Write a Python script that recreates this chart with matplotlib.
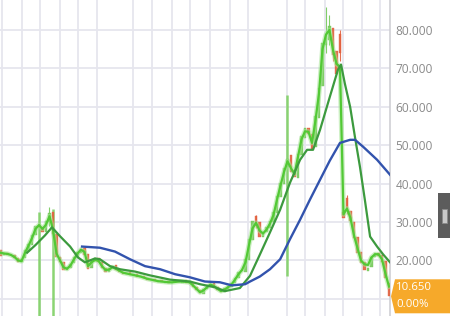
import matplotlib
matplotlib.use("Agg")
import matplotlib.pyplot as plt
from matplotlib.patches import Polygon, Rectangle
from matplotlib.transforms import IdentityTransform
import numpy as np

# ---------------- data (bar index units, prices) ----------------
ma_fast = [22.0, 21.8, 21.7, 21.4, 20.9, 20.0, 19.8, 22.0, 23.8, 25.8,
           28.2, 29.2, 28.2, 29.3, 31.5, 28.0, 21.8, 20.0, 18.2, 17.8,
           18.7, 20.3, 21.8, 22.8, 22.2, 18.5, 19.5, 20.1, 19.9, 18.5,
           17.5, 17.6, 18.2, 17.8, 17.3, 16.8, 16.6, 16.4, 16.2, 16.0,
           15.8, 15.5, 15.2, 15.0, 14.8, 14.6, 14.5, 14.4, 14.3, 14.3,
           14.4, 14.5, 14.5, 14.4, 14.3, 13.5, 12.6, 11.7, 12.2, 13.0,
           13.7, 13.3, 12.6, 12.0, 12.4, 13.0, 13.7, 15.0, 16.4, 17.5,
           19.5, 24.0, 28.3, 29.8, 27.8, 27.0, 28.0, 29.6, 31.8, 35.8,
           39.5, 43.0, 45.8, 44.0, 42.5, 47.0, 51.5, 53.6, 53.5, 50.6,
           56.5, 63.5, 75.0, 78.8, 80.0, 74.8, 71.2, 70.4, 32.0, 33.5,
           31.0, 26.5, 23.2, 20.0, 19.0, 18.8, 20.8, 21.6, 21.6, 20.3,
           16.5, 13.2]

opens = [22.8, 21.3, 21.9, 21.4, 21.5, 20.6, 19.5, 20.5, 22.5, 24.0,
         26.6, 29.2, 28.8, 27.4, 30.0, 32.6, 27.0, 21.0, 19.6, 17.5,
         18.0, 19.2, 21.0, 22.0, 23.2, 21.6, 17.9, 19.8, 20.7, 19.6,
         18.1, 16.9, 18.1, 18.7, 17.5, 17.1, 16.4, 16.9, 16.1, 16.4,
         15.7, 16.0, 15.4, 14.9, 15.2, 14.5, 14.8, 14.2, 14.6, 14.0,
         14.3, 14.7, 14.2, 14.8, 14.3, 14.1, 13.1, 12.3, 11.3, 12.5,
         13.3, 14.0, 13.1, 12.4, 11.7, 12.6, 13.2, 14.0, 15.4, 17.2,
         17.0, 20.0, 25.3, 31.5, 30.0, 26.0, 27.5, 28.4, 30.0, 32.4,
         36.5, 39.8, 44.2, 47.5, 43.5, 41.5, 47.5, 52.0, 54.6, 53.0,
         49.5, 57.0, 65.5, 76.0, 77.5, 80.5, 74.5, 79.0, 32.5, 36.2,
         32.8, 30.0, 26.0, 22.2, 19.5, 17.3, 18.2, 20.8, 22.0, 21.4,
         19.8, 14.0]

closes = [21.2, 21.9, 21.5, 21.6, 20.5, 19.6, 20.4, 22.6, 24.2, 26.5,
          29.0, 28.6, 27.5, 30.2, 32.4, 26.8, 20.8, 19.5, 17.6, 18.2,
          19.1, 21.0, 22.3, 23.0, 21.5, 17.8, 19.9, 20.6, 19.5, 18.0,
          17.0, 18.0, 18.6, 17.4, 17.0, 16.5, 16.8, 16.2, 16.3, 15.8,
          15.9, 15.3, 15.0, 15.1, 14.6, 14.7, 14.3, 14.5, 14.1, 14.4,
          14.6, 14.3, 14.7, 14.2, 14.0, 13.0, 12.2, 11.4, 12.6, 13.4,
          13.9, 13.0, 12.3, 11.8, 12.7, 13.3, 14.0, 15.5, 16.9, 17.2,
          20.3, 25.5, 30.3, 29.0, 26.2, 27.4, 28.6, 30.2, 32.6, 36.8,
          40.2, 44.0, 46.5, 43.0, 41.8, 47.8, 52.3, 54.5, 52.8, 49.0,
          57.5, 65.0, 76.5, 78.0, 81.0, 73.5, 68.5, 74.0, 31.0, 33.2,
          30.2, 25.8, 22.0, 19.2, 17.5, 18.0, 21.0, 21.9, 21.2, 19.5,
          15.4, 10.65]

wick_idx = [11, 15, 82, 93, 94, 95, 73, 14, 97, 99]
wick_hi = [32.5, 33.5, 63.0, 86.0, 84.0, 78.0, 31.8, 34.0, 80.0, 37.0]
wick_lo = [3.0, 3.0, 16.0, 74.0, 76.0, 72.0, 28.5, 29.0, 72.0, 32.0]
spike_idx = [11, 15, 82]

ma_mid_x = [7.6, 10.0, 12.7, 14.7, 17.0, 19.9, 22.1, 24.1, 27.0, 28.4, 31.3, 34.1,
            38.4, 42.7, 48.4, 54.1, 57.0, 61.3, 64.1, 68.4, 71.3, 74.1, 77.0, 79.9,
            82.7, 85.6, 87.6, 89.3, 91.3, 94.1, 96.4, 97.3, 98.4, 99.9, 101.3, 102.7,
            104.1, 105.6, 107.6, 109.3, 111.3]
ma_mid_y = [22.0, 24.0, 26.5, 28.6, 26.3, 23.6, 20.8, 19.5, 20.5, 20.3, 18.5, 17.7,
            17.1, 16.1, 15.0, 14.5, 13.8, 13.0, 12.0, 12.8, 16.0, 21.5, 27.3, 33.2,
            40.2, 46.2, 48.8, 48.8, 54.0, 62.6, 69.6, 71.0, 66.0, 60.0, 52.0, 44.4,
            35.8, 26.2, 23.6, 21.6, 19.5]

ma_slow_x = [23.3, 28.4, 32.7, 37.0, 41.3, 45.6, 49.9, 54.1, 58.4, 62.7, 66.1,
             69.9, 71.3, 74.1, 77.0, 79.9, 82.7, 85.6, 88.4, 91.3, 94.1, 97.0,
             99.9, 101.3, 103.6, 107.6, 111.3]
ma_slow_y = [23.6, 23.3, 22.3, 20.3, 18.5, 17.7, 16.4, 15.6, 14.5, 14.3, 13.5,
             13.8, 14.5, 15.8, 17.7, 20.3, 25.5, 30.6, 35.8, 41.0, 46.0, 50.6,
             51.4, 51.4, 49.6, 46.2, 42.3]

price_grid = [10, 20, 30, 40, 50, 60, 70, 80]
price_labels = [20, 30, 40, 50, 60, 70, 80]   # 10.000 sits under the price tag
date_ticks = [0.4, 6.1, 11.3, 17.0, 22.1, 27.6, 37.9, 43.3, 49.0, 54.1, 59.9,
              65.6, 70.7, 81.9, 87.0, 92.7, 97.9, 103.3, 108.4]
last_price = 10.65
last_change = "0.00%"

# ---------------- figure ----------------
W, H = 450, 316
fig = plt.figure(figsize=(W / 100, H / 100), dpi=100)
fig.patch.set_facecolor("white")
ax = fig.add_axes([0, 0, 390 / W, 1])
ax.set_facecolor("white")
ax.set_xlim(-0.143, 111.29)
ax.set_ylim(5.52, 87.81)

grid_c = "#e6e6ee"
for t in price_grid:
    ax.axhline(t, color=grid_c, lw=1.3, zorder=0)
for t in date_ticks:
    ax.axvline(t, color=grid_c, lw=1.3, zorder=0)

x = np.arange(len(closes))
o = np.array(opens)
c = np.array(closes)
up_c, dn_c = "#74c95a", "#e2603e"
cols = [up_c if cc >= oo else dn_c for oo, cc in zip(o, c)]

# wicks
for i, hi, lo in zip(wick_idx, wick_hi, wick_lo):
    col = "#7fd064" if i in spike_idx else cols[i]
    lw = 1.8 if i in spike_idx else 0.8
    ax.vlines(i, lo, hi, color=col, lw=lw, alpha=0.9, zorder=2)

h = c - o
h = np.where(np.abs(h) < 0.25, 0.25, h)
ax.bar(x, h, bottom=o, width=0.75, color=cols, edgecolor=cols, lw=0.3,
       alpha=0.9, zorder=3)

# moving averages
ax.plot(x, ma_fast, color="#a6e596", lw=3.6, alpha=0.55, zorder=4,
        solid_joinstyle="round")
ax.plot(x, ma_fast, color="#52c935", lw=1.6, zorder=5, solid_joinstyle="round")
ax.plot(ma_mid_x, ma_mid_y, color="#3c9a3e", lw=1.6, zorder=6,
        solid_joinstyle="round")
ax.plot(ma_slow_x, ma_slow_y, color="#3253ad", lw=1.7, zorder=6,
        solid_joinstyle="round")

# axis styling
for s in ["top", "left", "bottom"]:
    ax.spines[s].set_visible(False)
ax.spines["right"].set_color("#cfcfd4")
ax.spines["right"].set_linewidth(1.2)
ax.set_xticks([])
ax.yaxis.tick_right()
ax.set_yticks(price_labels)
ax.set_yticklabels([f"{t:.3f}" for t in price_labels])
ax.tick_params(axis="y", length=0, pad=4, labelsize=8.6, labelcolor="#8a8a8a")
for lab in ax.get_yticklabels():
    lab.set_family(["Open Sans", "DejaVu Sans"])

# last price tag
fig.canvas.draw()
py = ax.transData.transform((0, last_price))[1]
x0 = 390
tag = Polygon([[x0 + 1, py], [x0 + 5, py + 17], [W, py + 17], [W, py - 17],
               [x0 + 5, py - 17]], closed=True, facecolor="#f6a92a",
              edgecolor="none", transform=IdentityTransform(), zorder=10)
fig.add_artist(tag)
fig.text((x0 + 6) / W, (py + 8.5) / H, f"{last_price:.3f}", color="white",
         fontsize=8.2, va="center", ha="left", zorder=12,
         family=["Open Sans", "DejaVu Sans"])
fig.text((x0 + 6) / W, (py - 8.5) / H, last_change, color="white",
         fontsize=8.2, va="center", ha="left", zorder=12,
         family=["Open Sans", "DejaVu Sans"])

# scroll handle on the right edge
fig.add_artist(Rectangle((438 / W, (H - 238) / H), 12 / W, 45 / H,
                         transform=fig.transFigure, facecolor="#5c5c5c",
                         edgecolor="none", zorder=10))
fig.add_artist(Rectangle((441.5 / W, (H - 223) / H), 5 / W, 14 / H,
                         transform=fig.transFigure, facecolor="#c9c9c9",
                         edgecolor="#8a8a8a", lw=0.6, zorder=11))

fig.savefig("out.png", dpi=100, facecolor="white")
